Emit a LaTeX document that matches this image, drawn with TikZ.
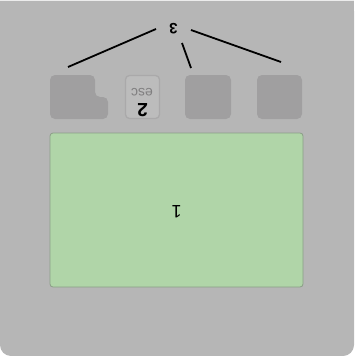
\documentclass[tikz,border=0pt]{standalone}
\usepackage{fontspec}
\setmainfont{Liberation Sans}
\definecolor{bggray}{RGB}{182,182,182}
\definecolor{keygray}{RGB}{160,159,160}
\definecolor{escfill}{RGB}{188,188,188}
\definecolor{greenfill}{RGB}{176,213,168}
\definecolor{greenedge}{RGB}{138,158,134}
\begin{document}
\begin{tikzpicture}[x=1pt,y=-1pt,
  keybox/.style={fill=keygray,rounded corners=5pt},
  esckey/.style={draw=keygray!90!white,line width=1.3pt,fill=escfill,rounded corners=4pt},
  conn/.style={draw=black,line width=1.8pt},
  upside/.style={rotate=180,inner sep=0pt}]
\useasboundingbox (0,0) rectangle (354,356);
% background
\fill[bggray,rounded corners=11pt] (0,0) rectangle (354,356);
\fill[bggray] (0,0) rectangle (354,100);
\draw[white!85!gray,line width=0.6pt] (0,0.3) -- (354,0.3);
% screen
\node[draw=greenedge,fill=greenfill,line width=0.8pt,rounded corners=3pt,minimum width=253pt,minimum height=154pt,inner sep=0pt] (screen) at (176.5,210) {};
\node[upside,font=\fontsize{18}{18}\selectfont] (l1) at (176.5,211.5) {1};
% keys
\fill[keybox] (50,75) -- (95,75) -- (95,97) -- (108,97) -- (108,119) -- (50,119) -- cycle;
\coordinate (k1) at (68,67);
\node[esckey,minimum width=34pt,minimum height=43pt,inner sep=0pt] (k2) at (142.5,97) {};
\node[upside,font=\fontsize{14}{14}\selectfont,text=keygray!80!black] (esc) at (142,92.5) {esc};
\node[upside,font=\bfseries\fontsize{19}{19}\selectfont] (l2) at (142.5,110) {2};
\node[keybox,minimum width=46pt,minimum height=44pt,inner sep=0pt] (k3) at (208,97) {};
\node[keybox,minimum width=45pt,minimum height=44pt,inner sep=0pt] (k4) at (279.5,97) {};
% label 3 and connectors
\node[upside,font=\bfseries\fontsize{15}{15}\selectfont] (l3) at (173.5,29) {3};
\coordinate (a1) at (156,29);
\coordinate (a2) at (182,43);
\coordinate (a3) at (191,30);
\coordinate (k3t) at (191,68);
\coordinate (k4t) at (281,62);
\draw[conn] (a1) -- (k1);
\draw[conn] (a2) -- (k3t);
\draw[conn] (a3) -- (k4t);
\end{tikzpicture}
\end{document}
